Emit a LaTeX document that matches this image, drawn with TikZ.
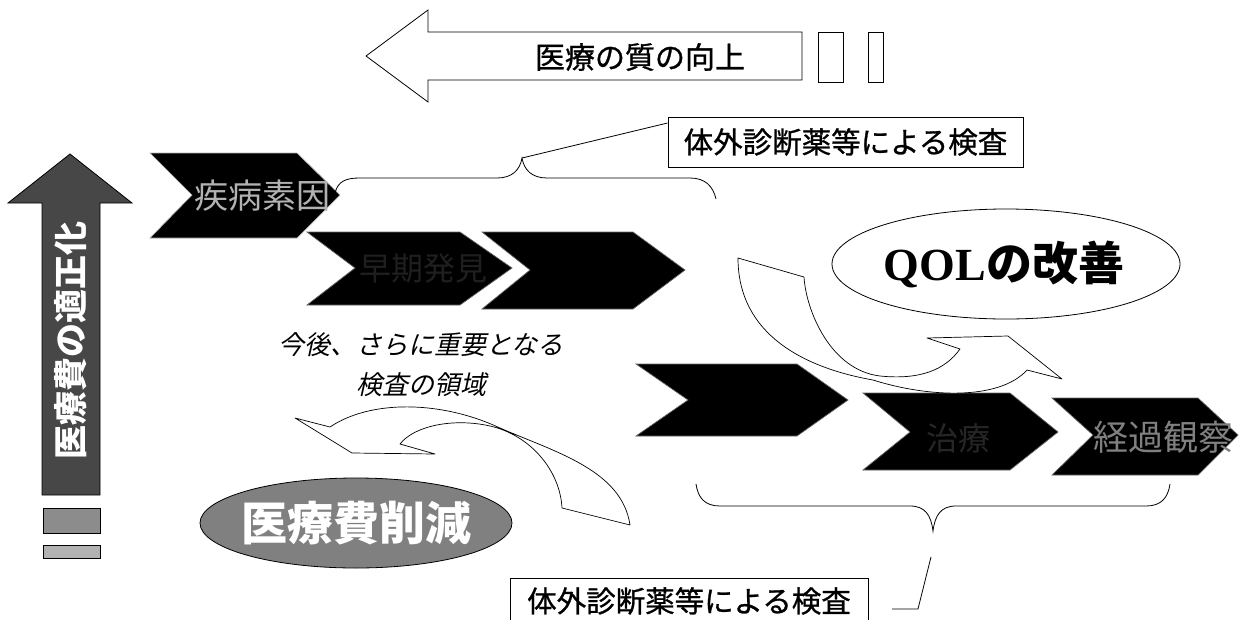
\documentclass[tikz,border=0pt]{standalone}
\usepackage{fontspec}
\newfontfamily\jp{Noto Sans CJK JP}
\newfontfamily\jpm[FakeBold=0.9]{Noto Sans CJK JP}
\newfontfamily\jpit[FakeSlant=0.22]{Noto Sans CJK JP}
\newfontfamily\serifb{Liberation Serif}
\usetikzlibrary{shapes.geometric}
\tikzset{
  chev/.style={fill=black, draw=black!60, line width=0.7pt},
  chevtext/.style={font=\jp\fontsize{32}{32}\selectfont, inner sep=0pt},
  carrow/.style={fill=white, draw=black, line width=0.7pt, line join=round},
  outline/.style={draw=black, line width=0.8pt},
  labelbox/.style={draw=black, line width=0.9pt, fill=white, inner sep=0pt,
     font=\jpm\fontsize{29.5}{29.5}\selectfont},
  brace/.style={draw=black, line width=0.8pt},
}
\begin{document}
\begin{tikzpicture}[x=1pt,y=-1pt]
\useasboundingbox (0,0) rectangle (1243,619);

% top arrow
\draw[outline, fill=white] (366,56) -- (428,10) -- (428,32) -- (802,32) -- (802,80) -- (428,80) -- (428,102) -- cycle;
\node[font=\jpm\fontsize{30}{30}\selectfont, inner sep=0pt] (quality) at (640,57) {医療の質の向上};
\draw[outline] (818,32) rectangle (843,82);
\draw[outline] (868,32) rectangle (883,82);

% vertical arrow
\draw[outline, fill=black!72] (70,154) -- (132,203) -- (100,203) -- (100,495) -- (42,495) -- (42,203) -- (8,203) -- cycle;
\node[rotate=90, text=white, font=\jp\bfseries\fontsize{34}{34}\selectfont, inner sep=0pt] (tekisei) at (71,340) {医療費の適正化};
\draw[outline, fill=black!45] (43,508) rectangle (100,533);
\draw[outline, fill=black!30] (43,545) rectangle (100,558);

% chevrons row 2 (drawn before row 1)
\path[chev] (307,232) -- (460,232) -- (512,268) -- (460,305) -- (307,305) -- (355,268) -- cycle;
\path[chev] (482,232) -- (633,232) -- (685,270) -- (633,309) -- (482,309) -- (530,270) -- cycle;
\node[chevtext, text=black!88] (soki) at (423,268) {早期発見};
% chevron row 1
\path[chev, draw=white!70!black] (150,153) -- (297,153) -- (340,195) -- (297,238) -- (150,238) -- (192,195) -- cycle;
\node[chevtext, text=black!30, font=\jp\fontsize{34}{34}\selectfont] (soin) at (262,196) {疾病素因};
% chevrons bottom row
\path[chev] (636,364) -- (797,364) -- (848,400) -- (797,436) -- (636,436) -- (688,400) -- cycle;
\path[chev] (863,393) -- (1010,393) -- (1058,432) -- (1010,470) -- (863,470) -- (910,432) -- cycle;
\path[chev] (1052,398) -- (1198,398) -- (1238,435) -- (1198,475) -- (1052,475) -- (1093,435) -- cycle;
\node[chevtext, text=black!85] (chiryo) at (958,438) {治療};
\node[chevtext, text=black!50, font=\jp\fontsize{35}{35}\selectfont] (keika) at (1163,437) {経過観察};

% top label box and brace
\node[labelbox, minimum width=355pt, minimum height=50pt] (topbox) at (845.5,142) {体外診断薬等による検査};
\coordinate (tpeak) at (522,158);
\draw[brace] (335,193) .. controls (338,181) and (346,178) .. (360,178) -- (497,178)
   .. controls (512,178) and (520,170) .. (tpeak)
   .. controls (524,170) and (532,178) .. (547,178) -- (690,178)
   .. controls (705,178) and (713,186) .. (716,199);
\draw[brace] (tpeak) -- ([yshift=19pt]topbox.west);

% bottom brace and label box
\draw[brace] (696,484) .. controls (698,498) and (705,506) .. (720,506) -- (910,506)
   .. controls (925,506) and (931,515) .. (933,531)
   .. controls (935,515) and (941,506) .. (956,506) -- (1146,506)
   .. controls (1161,506) and (1168,498) .. (1170,484);
\node[labelbox, minimum width=358pt, minimum height=46pt] (botbox) at (689,601) {体外診断薬等による検査};
\coordinate (bl1) at (931,557);
\coordinate (bl2) at (918,609);
\coordinate (bl3) at (892,609);
\draw[brace] (bl1) -- (bl2) -- (bl3);

% QOL ellipse
\node[ellipse, draw=black, line width=0.8pt, fill=white, minimum width=348pt, minimum height=110pt, inner sep=0pt] (qolell) at (1006,264) {};
\node[font=\fontsize{46}{46}\selectfont] (qol) at (1004,264) {{\serifb\bfseries QOL}{\jp\bfseries の改善}};

% cost ellipse
\node[ellipse, draw=black, line width=0.8pt, fill=black!50, minimum width=312pt, minimum height=90pt, inner sep=0pt] (costell) at (356,523) {};
\node[text=white, font=\jp\bfseries\fontsize{46}{46}\selectfont] (cost) at (356,523) {医療費削減};

% italic text
\node[align=center, font=\jpit\fontsize{26}{40}\selectfont] (future) at (421,365) {今後、さらに重要となる\\検査の領域};

% curved arrow toward QOL
\draw[carrow] (738,258) -- (804,277)
   .. controls (806,310) and (830,370) .. (880,376)
   .. controls (920,380) and (945,370) .. (960,349)
   -- (927,338) -- (1008,336) -- (1062,379) -- (1027,370)
   .. controls (1000,400) and (930,398) .. (873,380)
   .. controls (805,368) and (738,335) .. (738,258) -- cycle;

% curved arrow toward cost reduction
\draw[carrow] (295,418) -- (330,427)
   .. controls (370,400) and (440,400) .. (500,428)
   .. controls (555,452) and (622,470) .. (630,525)
   -- (562,508)
   .. controls (560,470) and (530,435) .. (490,426)
   .. controls (455,418) and (415,425) .. (400,444)
   -- (435,454) -- (352,453) -- cycle;
\end{tikzpicture}
\end{document}
